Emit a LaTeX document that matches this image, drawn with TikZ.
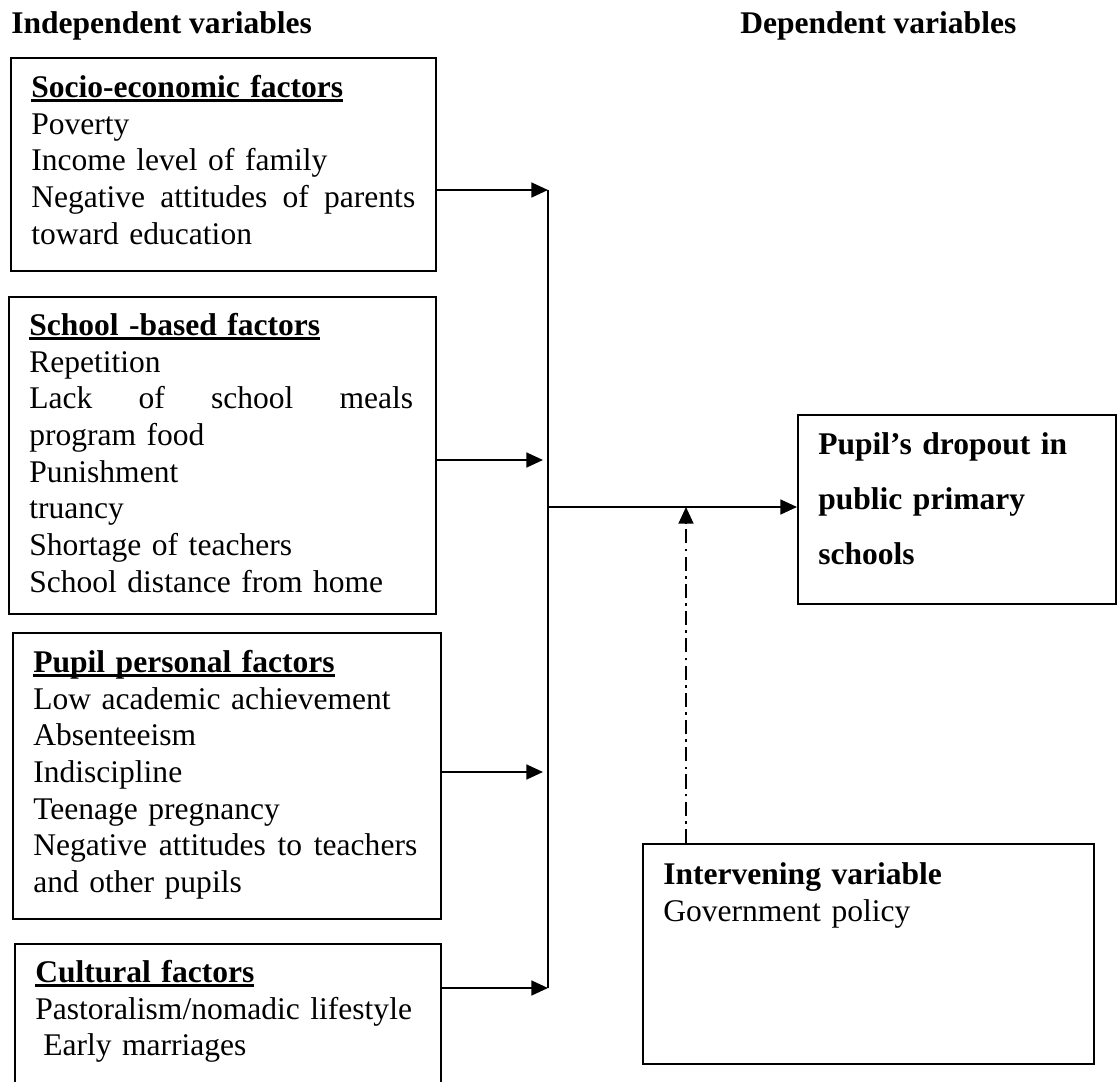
\documentclass[tikz,border=0pt]{standalone}
\usepackage{fontspec}
\setmainfont{Liberation Serif}
\usetikzlibrary{arrows.meta, calc}
\newlength{\factorwd}
\setlength{\factorwd}{218.5pt}
\newcommand{\factorfont}{\fontsize{17.95pt}{20.9pt}\selectfont}
\newcommand{\factorhead}[1]{\setbox0\hbox{\textbf{#1}}\rlap{\rule[-2.6pt]{\wd0}{1.6pt}}\box0}
\newcommand{\fullline}[1]{\makebox[\factorwd][s]{\spaceskip=0pt\relax #1}}
\tikzset{
  factorbox/.style = {draw, line width=1.1pt, rectangle, inner sep=0pt, anchor=north west},
  factortext/.style = {anchor=north west, inner sep=0pt, text width=222pt, font=\factorfont},
  headtext/.style = {anchor=base west, inner sep=0pt, font=\factorfont\bfseries},
  flow/.style = {line width=1.1pt, -{Triangle[length=9.5pt, width=8.5pt]}},
  policy/.style = {line width=1.1pt, dash pattern=on 8pt off 3pt on 1.5pt off 3pt, -{Triangle[length=9.5pt, width=8.5pt]}}
}
\begin{document}
\begin{tikzpicture}[x=0.02cm, y=-0.02cm]
\clip (0,0) rectangle (1117,1082);
\fill[white] (0,0) rectangle (1117,1082);
\node[headtext] (indep) at (11,33) {Independent variables};
\node[headtext] (depend) at (740,33) {Dependent variables};

\node[factorbox, minimum width=8.5cm, minimum height=4.26cm] (socio) at (10,57) {};
\node[factortext] (socio-t) at (31,71.3) {\strut\factorhead{Socio-economic factors}\\ Poverty\\ Income level of family\\ \fullline{Negative attitudes of parents}\\ toward education};

\node[factorbox, minimum width=8.54cm, minimum height=6.34cm] (school) at (8,296) {};
\node[factortext] (school-t) at (29,309.3) {\strut\factorhead{School -based factors}\\ Repetition\\ \fullline{Lack of school meals}\\ program food\\ Punishment\\ truancy\\ Shortage of teachers\\ School distance from home};

\node[factorbox, minimum width=8.56cm, minimum height=5.72cm] (pupil) at (12,632) {};
\node[factortext] (pupil-t) at (33,646.3) {\strut\factorhead{Pupil personal factors}\\ Low academic achievement\\ Absenteeism\\ Indiscipline\\ Teenage pregnancy\\ \fullline{Negative attitudes to teachers}\\ and other pupils};

\node[factorbox, minimum width=8.52cm, minimum height=4cm] (culture) at (14,943) {};
\node[factortext] (culture-t) at (35,956.3) {\strut\factorhead{Cultural factors}\\ Pastoralism/nomadic lifestyle\\ \hspace*{4.5pt}Early marriages};

\node[factorbox, minimum width=6.36cm, minimum height=3.78cm] (dropout) at (797,414) {};
\node[anchor=north west, inner sep=0pt, text width=5.5cm, font=\fontsize{17.95pt}{31.3pt}\selectfont\bfseries] (dropout-t) at (818,415.5) {\strut Pupil’s dropout in\\ public primary\\ schools};

\node[factorbox, minimum width=9.02cm, minimum height=4.4cm] (policy) at (642,843) {};
\node[factortext] (policy-t) at (663,858.3) {\strut\textbf{Intervening variable}\\ Government policy};

\coordinate (join1) at (548,190);
\coordinate (join2) at (543,460);
\coordinate (join3) at (543,772);
\coordinate (join4) at (548,988);
\coordinate (hub) at (548,507);
\coordinate (meet) at (686,507);

\draw[flow] (socio.east |- join1) -- (join1);
\draw[flow] (school.east |- join2) -- (join2);
\draw[flow] (pupil.east |- join3) -- (join3);
\draw[flow] (culture.east |- join4) -- (join4);
\draw[line width=1.1pt] (join1) -- (join4);
\draw[flow] (hub) -- (dropout.west |- hub);
\draw[policy] (policy.north -| meet) -- (meet);
\end{tikzpicture}
\end{document}
